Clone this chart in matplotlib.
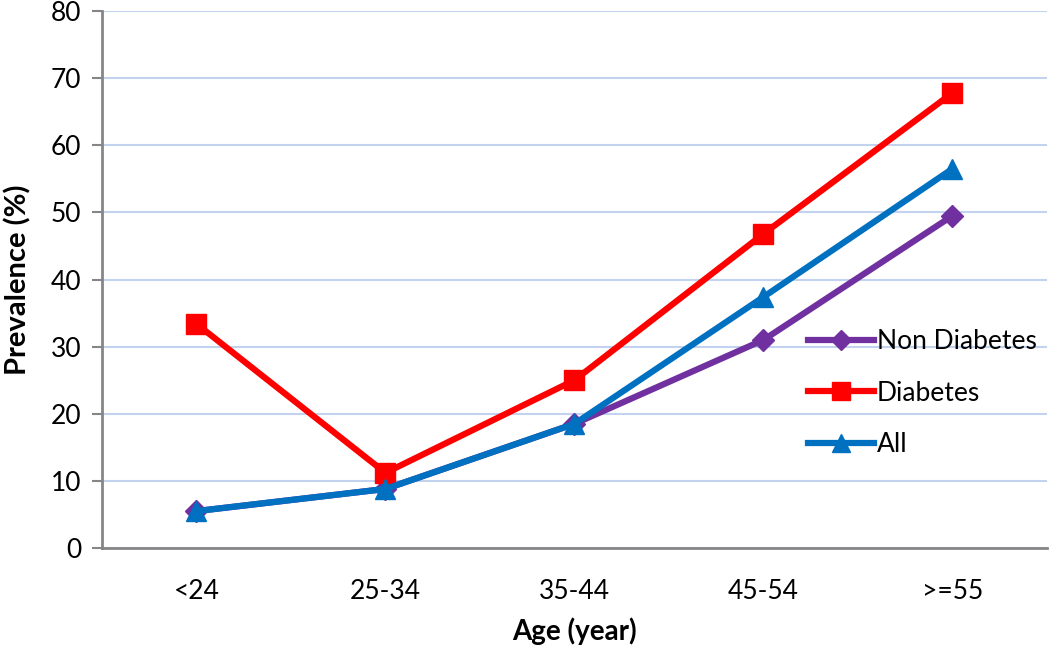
import matplotlib
matplotlib.use("Agg")
import matplotlib.pyplot as plt

# ── Data ──────────────────────────────────────────────────────────────
age_groups = ["<24", "25-34", "35-44", "45-54", ">=55"]
non_diabetes = [5.5, 8.8, 18.5, 31.0, 49.5]
diabetes = [33.4, 11.2, 25.0, 46.8, 67.8]
all_people = [5.5, 8.8, 18.5, 37.4, 56.5]
y_ticks = [0, 10, 20, 30, 40, 50, 60, 70, 80]

plt.rcParams["font.family"] = ["Lato", "DejaVu Sans"]

fig = plt.figure(figsize=(10.5, 6.49), dpi=100)
ax = fig.add_axes([0.0971, 0.1556, 0.9, 0.8274])

x = list(range(len(age_groups)))
ax.plot(x, non_diabetes, color="#7030A0", linewidth=4.5, marker="D",
        markersize=11, label="Non Diabetes", zorder=3)
ax.plot(x, diabetes, color="#FF0000", linewidth=4.5, marker="s",
        markersize=15, label="Diabetes", zorder=4)
ax.plot(x, all_people, color="#0070C0", linewidth=4.5, marker="^",
        markersize=15, label="All", zorder=5)

ax.set_xlim(-0.5, len(age_groups) - 0.5)
ax.set_ylim(0, 80)
ax.set_yticks(y_ticks)
ax.set_xticks(x)
ax.set_xticklabels(age_groups)
ax.tick_params(axis="y", labelsize=19, length=7, width=1.5, color="#868686", pad=8)
ax.tick_params(axis="x", labelsize=19, length=0, pad=22)

ax.grid(axis="y", color="#C3D2EE", linewidth=1.5)
ax.set_axisbelow(True)
for side in ["top", "right"]:
    ax.spines[side].set_visible(False)
for side in ["left", "bottom"]:
    ax.spines[side].set_color("#868686")
    ax.spines[side].set_linewidth(2)

ax.set_ylabel("Prevalence (%)", fontsize=21, fontweight="bold", labelpad=14)
ax.set_xlabel("Age (year)", fontsize=20, fontweight="bold", labelpad=10)

ax.legend(loc="center left", bbox_to_anchor=(0.747, 0.2886), frameon=False,
          fontsize=19, handlelength=2.5, handletextpad=0.12, labelspacing=1.0,
          borderpad=0, borderaxespad=0, markerscale=0.9)

fig.savefig("out.png", dpi=100)
